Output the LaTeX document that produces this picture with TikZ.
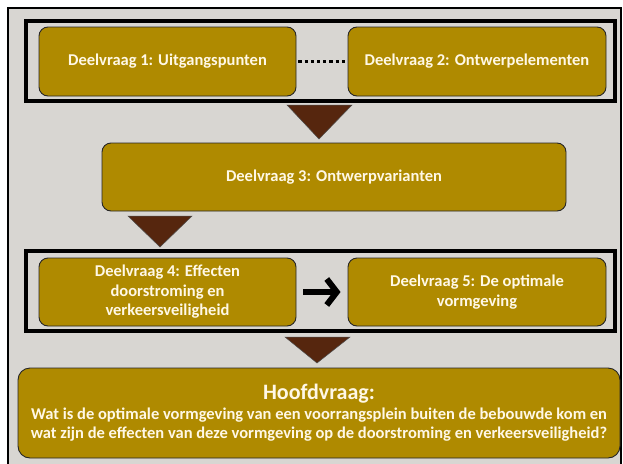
\documentclass[tikz,border=0pt]{standalone}
\usepackage{fontspec}
\setmainfont{Carlito}
\usetikzlibrary{positioning,arrows.meta}
\definecolor{boxgold}{HTML}{AF8A00}
\definecolor{arrowbrown}{HTML}{56260E}
\definecolor{panelgrey}{HTML}{D8D6D2}
\definecolor{cream}{HTML}{FFF8E6}

\begin{document}
\begin{tikzpicture}[x=1pt,y=-1pt]
	\tikzstyle{vraag}=[draw=black!85, line width=0.9pt, fill=boxgold, rounded corners=9pt, text=cream, font=\bfseries\fontsize{16.5}{19.5}\selectfont, align=center, inner sep=0pt]
	\tikzstyle{groep}=[draw=black, line width=3.4pt]
	\tikzstyle{zakje}=[fill=arrowbrown, draw=black!70, line width=0.5pt]
	\useasboundingbox (0,0) rectangle (623,463);
	\fill [white] (0,0) rectangle (623,463);
	\draw [fill=panelgrey, line width=1.2pt] (8,8) rectangle (621,475);
	% eerste groep
	\draw [groep] (26,21) rectangle (615,101);
	\node (d1) [vraag, minimum width=257pt, minimum height=69pt] at (167.5,61.5) {Deelvraag 1: Uitgangspunten};
	\node (d2) [vraag, minimum width=258pt, minimum height=69pt] at (477,61.5) {Deelvraag 2: Ontwerpelementen};
	\draw [line width=3.4pt, dash pattern=on 3.2pt off 3pt, shorten <=2pt] (d1.east) -- (d2.west);
	\fill [zakje] (287,105) -- (352,105) -- (319,139) -- cycle;
	% derde vraag
	\node (d3) [vraag, minimum width=464pt, minimum height=68pt] at (334,177) {Deelvraag 3: Ontwerpvarianten};
	\fill [zakje] (128,216) -- (192,216) -- (160,247) -- cycle;
	% tweede groep
	\draw [groep] (26,251) rectangle (615,331);
	\node (d4) [vraag, minimum width=257pt, minimum height=68pt] at (167.5,292) {Deelvraag 4: Effecten\\doorstroming en\\verkeersveiligheid};
	\node (d5) [vraag, minimum width=258pt, minimum height=68pt] at (477,292) {Deelvraag 5: De optimale\\vormgeving};
	\draw [line width=6pt, -{Straight Barb[length=10pt,width=26pt]}, shorten <=7pt, shorten >=7pt] (d4.east) -- (d5.west);
	\fill [zakje] (285,337) -- (350,337) -- (317,363) -- cycle;
	% hoofdvraag
	\node (hv) [vraag, rounded corners=12pt, minimum width=602pt, minimum height=90pt] at (319,413) {{\fontsize{22}{23}\selectfont Hoofdvraag:}\\Wat is de optimale vormgeving van een voorrangsplein buiten de bebouwde kom en\\wat zijn de effecten van deze vormgeving op de doorstroming en verkeersveiligheid?};
\end{tikzpicture}
\end{document}
